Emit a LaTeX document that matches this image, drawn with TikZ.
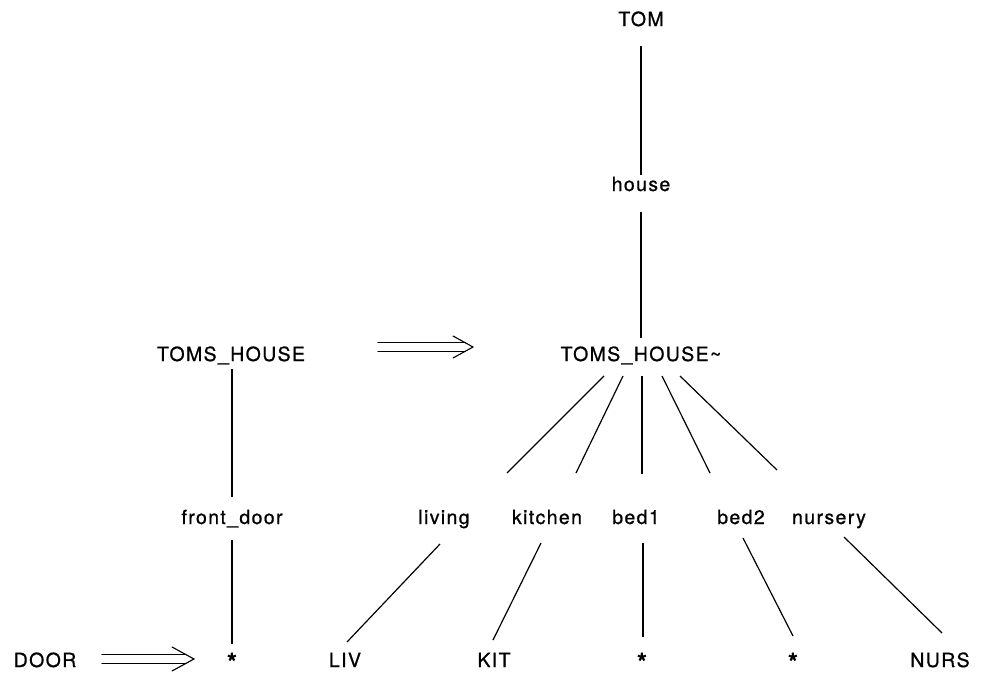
\documentclass[tikz,border=0pt]{standalone}
\usepackage{fontspec}
\setmainfont{TeX Gyre Heros}[LetterSpace=7, FakeBold=0.8]
\usetikzlibrary{calc}
\begin{document}
\begin{tikzpicture}[x={(1pt,0pt)}, y={(0pt,-1pt)},
  lbl/.style={anchor=base, inner sep=0pt, font=\fontsize{19.5}{22}\selectfont},
  star/.style={anchor=base, inner sep=0pt, font=\fontsize{25}{25}\selectfont\bfseries},
  edge/.style={line width=1.2pt},
  rail/.style={line width=1.1pt, line cap=round}]
\useasboundingbox (0,0) rectangle (982,680);

% ---- labels ----
\node[lbl] (tom)     at (641,26)  {TOM};
\node[lbl] (house)   at (641,191) {house};
\node[lbl] (thx)     at (641,361) {TOMS\_HOUSE\textasciitilde};
\node[lbl] (th)      at (231,361) {TOMS\_HOUSE};
\node[lbl] (fd)      at (232,524) {front\_door};
\node[lbl] (living)  at (444,524) {living};
\node[lbl] (kitchen) at (547,524) {kitchen};
\node[lbl] (bedone)  at (636,524) {bed1};
\node[lbl] (bedtwo)  at (741,524) {bed2};
\node[lbl] (nursery) at (829,524) {nursery};
\node[lbl] (door)    at (45,667)  {DOOR};
\node[star] (stfd)   at (232,671) {*};
\node[lbl] (liv)     at (345,667) {LIV};
\node[lbl] (kit)     at (494,667) {KIT};
\node[star] (stbone) at (642,671) {*};
\node[star] (stbtwo) at (793,671) {*};
\node[lbl] (nurs)    at (940,667) {NURS};

% ---- connector ends ----
\coordinate (tom-b)     at (641,46);
\coordinate (house-t)   at (641,175);
\coordinate (house-b)   at (641,212);
\coordinate (thx-t)     at (641,338);
\coordinate (th-b)      at (232,369);
\coordinate (fd-t)      at (232,497);
\coordinate (fd-b)      at (232,540);
\coordinate (stfd-t)    at (232,644);
% fan below TOMS_HOUSE~
\coordinate (thx-b1) at (604,376);
\coordinate (thx-b2) at (623,376);
\coordinate (thx-b3) at (642,376);
\coordinate (thx-b4) at (662,376);
\coordinate (thx-b5) at (680,376);
\coordinate (living-t)  at (507,473);
\coordinate (kitchen-t) at (576,473);
\coordinate (bedone-t)  at (642,474);
\coordinate (bedtwo-t)  at (710,473);
\coordinate (nursery-t) at (777,470);
% second level of the fan
\coordinate (living-b)  at (440,544);
\coordinate (kitchen-b) at (541,543);
\coordinate (bedone-b)  at (643,543);
\coordinate (bedtwo-b)  at (743,538);
\coordinate (nursery-b) at (844,537);
\coordinate (liv-t)     at (347,642);
\coordinate (kit-t)     at (493,640);
\coordinate (stbone-t)  at (643,637);
\coordinate (stbtwo-t)  at (793,636);
\coordinate (nurs-t)    at (942,633);

% ---- tree edges ----
\draw[edge] (tom-b) -- (house-t);
\draw[edge] (house-b) -- (thx-t);
\draw[edge] (th-b) -- (fd-t);
\draw[edge] (fd-b) -- (stfd-t);
\draw[edge] (thx-b1) -- (living-t);
\draw[edge] (thx-b2) -- (kitchen-t);
\draw[edge] (thx-b3) -- (bedone-t);
\draw[edge] (thx-b4) -- (bedtwo-t);
\draw[edge] (thx-b5) -- (nursery-t);
\draw[edge] (living-b) -- (liv-t);
\draw[edge] (kitchen-b) -- (kit-t);
\draw[edge] (bedone-b) -- (stbone-t);
\draw[edge] (bedtwo-b) -- (stbtwo-t);
\draw[edge] (nursery-b) -- (nurs-t);

% ---- double "implies" arrows ----
\coordinate (ia-s) at (378,347);
\coordinate (ia-e) at (473,347);
\draw[rail] ($(ia-s)+(0,-4.5)$) -- ($(ia-e)+(-8,-4.5)$)
            ($(ia-s)+(0,4.5)$)  -- ($(ia-e)+(-8,4.5)$);
\draw[rail] ($(ia-e)+(-20,-11)$) -- (ia-e) -- ($(ia-e)+(-20,11)$);

\coordinate (ib-s) at (102,659);
\coordinate (ib-e) at (194,659);
\draw[rail] ($(ib-s)+(0,-4.5)$) -- ($(ib-e)+(-8,-4.5)$)
            ($(ib-s)+(0,4.5)$)  -- ($(ib-e)+(-8,4.5)$);
\draw[rail] ($(ib-e)+(-22,-12)$) -- (ib-e) -- ($(ib-e)+(-22,12)$);
\end{tikzpicture}
\end{document}
